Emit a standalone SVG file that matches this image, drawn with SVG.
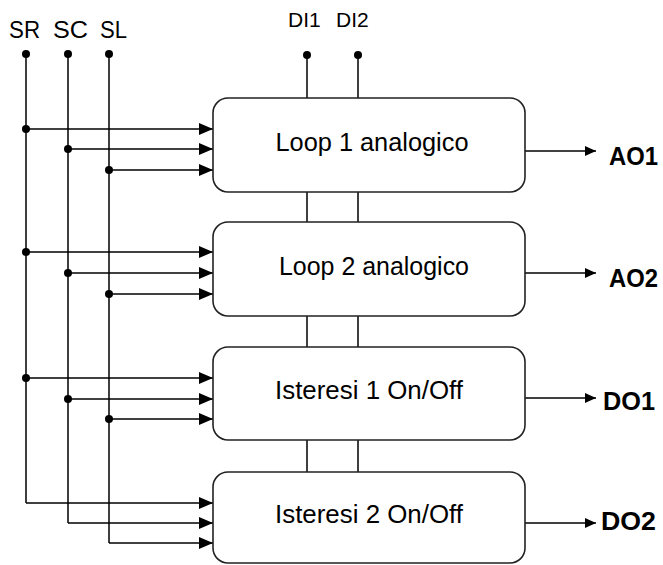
<svg xmlns="http://www.w3.org/2000/svg" width="663" height="565" viewBox="0 0 663 565">
<defs>
<marker id="inArrow" viewBox="0 0 14 12" refX="14" refY="6" markerWidth="14" markerHeight="12" markerUnits="userSpaceOnUse" orient="auto"><path d="M0,0 L14,6 L0,12 Z" fill="#000"/></marker>
<marker id="outArrow" viewBox="0 0 11 10" refX="11" refY="5" markerWidth="11" markerHeight="10" markerUnits="userSpaceOnUse" orient="auto"><path d="M0,0 L11,5 L0,10 Z" fill="#000"/></marker>
</defs>
<style>
.box{fill:#fff;stroke:#222;stroke-width:1.6}
.ln{fill:none;stroke:#000;stroke-width:1.5}
.in{fill:none;stroke:#000;stroke-width:1.5;marker-end:url(#inArrow)}
.out{fill:none;stroke:#000;stroke-width:1.5;marker-end:url(#outArrow)}
.dot{fill:#000}
.lbl{font-family:"Liberation Sans",Arial,sans-serif;font-size:25px;fill:#000}
.sig{font-family:"Liberation Sans",Arial,sans-serif;font-size:24px;fill:#000}
.di{font-family:"Liberation Sans",Arial,sans-serif;font-size:21px;fill:#000}
.outl{font-family:"Liberation Sans",Arial,sans-serif;font-size:26px;font-weight:bold;fill:#000}
</style>
<rect width="663" height="565" fill="#fff"/>
<g id="connectors">
<path class="ln" d="M26,54 V503 M68,54 V523 M109,54 V543"/>
<path class="ln" d="M307,55 V98 M358,55 V98"/>
<path class="ln" d="M307,192 V222 M358,192 V222 M307,316 V347 M358,316 V347 M307,440 V472 M358,440 V472"/>
<path class="in" d="M26,129 H213"/>
<path class="in" d="M68,149 H213"/>
<path class="in" d="M109,170 H213"/>
<path class="in" d="M26,252 H213"/>
<path class="in" d="M68,273 H213"/>
<path class="in" d="M109,294 H213"/>
<path class="in" d="M26,378 H213"/>
<path class="in" d="M68,399 H213"/>
<path class="in" d="M109,419 H213"/>
<path class="in" d="M26,503 H213"/>
<path class="in" d="M68,523 H213"/>
<path class="in" d="M109,543 H213"/>
<path class="out" d="M525,151 H596"/>
<path class="out" d="M525,273 H596"/>
<path class="out" d="M525,398 H596"/>
<path class="out" d="M525,523 H596"/>
<circle class="dot" cx="26" cy="54" r="4"/>
<circle class="dot" cx="68" cy="54" r="4"/>
<circle class="dot" cx="109" cy="54" r="4"/>
<circle class="dot" cx="307" cy="55" r="4"/>
<circle class="dot" cx="358" cy="55" r="4"/>
<circle class="dot" cx="26" cy="129" r="4"/>
<circle class="dot" cx="68" cy="149" r="4"/>
<circle class="dot" cx="109" cy="170" r="4"/>
<circle class="dot" cx="26" cy="252" r="4"/>
<circle class="dot" cx="68" cy="273" r="4"/>
<circle class="dot" cx="109" cy="294" r="4"/>
<circle class="dot" cx="26" cy="378" r="4"/>
<circle class="dot" cx="68" cy="399" r="4"/>
<circle class="dot" cx="109" cy="419" r="4"/>
</g>
<g id="signals">
<text class="sig" x="9" y="38" textLength="31" lengthAdjust="spacingAndGlyphs">SR</text>
<text class="sig" x="53" y="38" textLength="35" lengthAdjust="spacingAndGlyphs">SC</text>
<text class="sig" x="100" y="38" textLength="27" lengthAdjust="spacingAndGlyphs">SL</text>
<text class="di" x="288" y="27">DI1</text>
<text class="di" x="336" y="27">DI2</text>
</g>
<g id="loop1">
<rect class="box" x="213" y="98" width="312" height="94" rx="15" ry="15"/>
<text class="lbl" x="372" y="151" text-anchor="middle" textLength="193" lengthAdjust="spacingAndGlyphs">Loop 1 analogico</text>
</g>
<g id="loop2">
<rect class="box" x="213" y="222" width="312" height="94" rx="15" ry="15"/>
<text class="lbl" x="374" y="275" text-anchor="middle" textLength="190" lengthAdjust="spacingAndGlyphs">Loop 2 analogico</text>
</g>
<g id="isteresi1">
<rect class="box" x="213" y="347" width="312" height="93" rx="15" ry="15"/>
<text class="lbl" x="369" y="399" text-anchor="middle" textLength="188" lengthAdjust="spacingAndGlyphs">Isteresi 1 On/Off</text>
</g>
<g id="isteresi2">
<rect class="box" x="213" y="472" width="312" height="91" rx="15" ry="15"/>
<text class="lbl" x="369" y="523" text-anchor="middle" textLength="188" lengthAdjust="spacingAndGlyphs">Isteresi 2 On/Off</text>
</g>
<g id="outputs">
<text class="outl" x="609" y="165" textLength="49" lengthAdjust="spacingAndGlyphs">AO1</text>
<text class="outl" x="609" y="287" textLength="49" lengthAdjust="spacingAndGlyphs">AO2</text>
<text class="outl" x="603" y="410" textLength="52" lengthAdjust="spacingAndGlyphs">DO1</text>
<text class="outl" x="601" y="530" textLength="55" lengthAdjust="spacingAndGlyphs">DO2</text>
</g>
</svg>
